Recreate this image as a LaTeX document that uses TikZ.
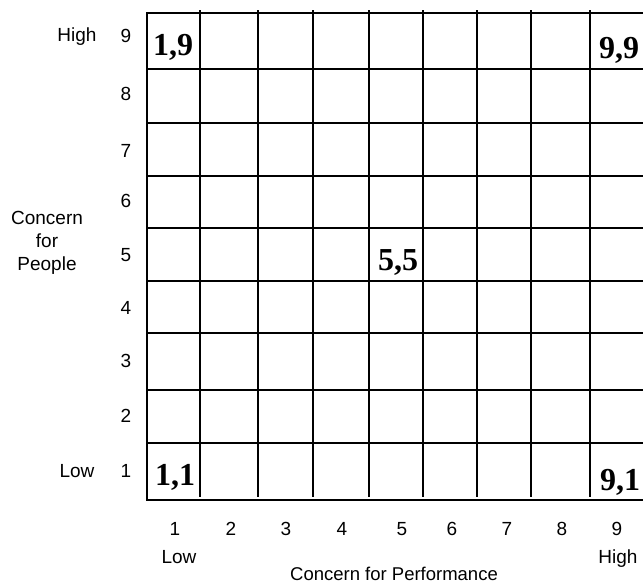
\documentclass[tikz,border=0pt]{standalone}
\usepackage{fontspec}
\setmainfont{Liberation Sans}
\newfontfamily\cellfont{Liberation Serif}
\begin{document}
\begin{tikzpicture}[x=1pt,y=-1pt,
  gridline/.style={line width=2pt,black},
  axlabel/.style={font=\fontsize{19}{23}\selectfont,anchor=base,inner sep=0pt},
  celllabel/.style={font=\cellfont\bfseries\fontsize{32}{36}\selectfont,anchor=base,inner sep=0pt}]
\useasboundingbox (0,0) rectangle (643,584);
% grid
\foreach \y in {13,69,123,176,228,281,333,390,443,500}
  \draw[gridline] (146,\y) -- (643,\y);
\draw[gridline] (147,12) -- (147,501);
\foreach \x in {200,258,313,369,423,477,531,590}
  \draw[gridline] (\x,10) -- (\x,497);
% cell labels
\node[celllabel] (c19) at (173,55) {1,9};
\node[celllabel] (c99) at (619,58) {9,9};
\node[celllabel] (c55) at (398,270) {5,5};
\node[celllabel] (c11) at (175,485) {1,1};
\node[celllabel] (c91) at (620,490) {9,1};
% row labels
\foreach \n/\y in {9/42,8/100,7/157,6/207,5/261,4/314,3/367,2/422,1/477}
  \node[axlabel] (r\n) at (126,\y) {\n};
\node[axlabel] (hiy) at (77,41) {High};
\node[axlabel] (loy) at (77,477) {Low};
\node[axlabel,align=center,anchor=north] (cfp) at (47,211) {Concern\\for\\People};
% column labels
\foreach \n/\x in {1/175,2/231,3/286,4/342,5/402,6/452,7/507,8/562,9/617}
  \node[axlabel] (k\n) at (\x,535) {\n};
\node[axlabel] (lox) at (179,563) {Low};
\node[axlabel] (hix) at (618,563) {High};
\node[axlabel,font=\fontsize{18.5}{22}\selectfont] (cfperf) at (394,580) {Concern for Performance};
\end{tikzpicture}
\end{document}
